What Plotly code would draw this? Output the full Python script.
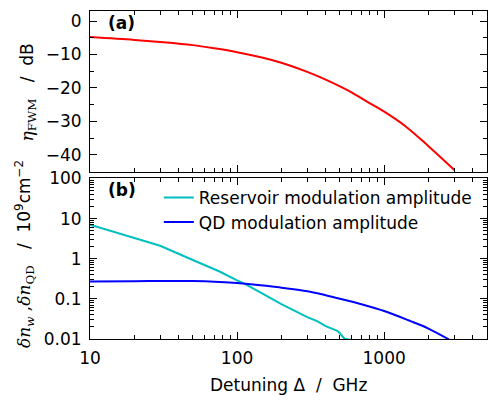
import plotly.graph_objects as go

# ---- data ----
detuning_fwm = [10, 20, 30, 50, 70, 100, 150, 200, 300, 400, 500, 600, 800, 1000, 1400, 2000, 3000]
eta_fwm_db = [-4.8, -5.64, -6.26, -7.2, -8.14, -9.3, -10.97, -12.47, -15.2, -17.5, -19.5, -21.3, -24.6, -27.1, -31.5, -37.4, -44.5]

detuning_res = [10, 20, 30, 50, 76, 100, 112, 150, 200, 300, 350, 400, 450, 480, 500, 530, 560, 600]
reservoir_amp = [7.0, 3.3, 2.1, 0.93, 0.48, 0.29, 0.24, 0.133, 0.074, 0.035, 0.028, 0.021, 0.018, 0.016, 0.014, 0.0106, 0.0098, 0.0095]

detuning_qd = [10, 20, 30, 50, 70, 100, 150, 200, 300, 400, 500, 700, 1000, 1500, 2000, 2800]
qd_amp = [0.27, 0.276, 0.279, 0.277, 0.268, 0.247, 0.216, 0.19, 0.155, 0.123, 0.101, 0.0736, 0.0498, 0.0282, 0.0182, 0.0094]

x_ticks = [10, 100, 1000]
x_ticktext = ["10", "100", "1000"]
y2_ticks = [0.01, 0.1, 1, 10, 100]
y2_ticktext = ["0.01", "0.1", "1", "10", "100"]
y1_ticks = [0, -10, -20, -30, -40]
y1_ticktext = ["0", "\u221210", "\u221220", "\u221230", "\u221240"]

FONT = "DejaVu Sans"
FS = 17
NB = "\u00a0"

minor_x = [d * m for d in (1, 10, 100, 1000) for m in range(2, 10)]
minor_y2 = [d * m for d in (0.01, 0.1, 1, 10) for m in range(2, 10)]

fig = go.Figure()
fig.add_trace(go.Scatter(x=detuning_fwm, y=eta_fwm_db, mode="lines",
                         line=dict(color="#ff0000", width=2, shape="spline", smoothing=1),
                         showlegend=False, xaxis="x", yaxis="y"))
fig.add_trace(go.Scatter(x=detuning_res, y=reservoir_amp, mode="lines",
                         name="Reservoir modulation amplitude",
                         line=dict(color="#00bfbf", width=2),
                         xaxis="x2", yaxis="y2", legend="legend"))
fig.add_trace(go.Scatter(x=detuning_qd, y=qd_amp, mode="lines",
                         name="QD modulation amplitude",
                         line=dict(color="#0000ff", width=2, shape="spline", smoothing=1),
                         xaxis="x2", yaxis="y2", legend="legend2"))

common_axis = dict(showline=True, linecolor="black", linewidth=1, mirror="allticks",
                   ticks="inside", ticklen=7, tickwidth=1, tickcolor="black",
                   showgrid=False, zeroline=False,
                   tickfont=dict(family=FONT, size=FS, color="black"))

# plot area spans pixels x 90..488, y 4..339
def py(pix):
    return (339 - pix) / 335.0
def px(pix):
    return (pix - 90) / 398.0

xr = [1.0, 3.699]
fig.update_layout(
    width=489, height=401,
    margin=dict(l=90, r=1, t=4, b=62, pad=0),
    paper_bgcolor="white", plot_bgcolor="white",
    font=dict(family=FONT, size=FS, color="black"),
    xaxis=dict(type="log", range=xr, domain=[0, 1], anchor="y", matches="x2",
               tickvals=x_ticks, showticklabels=False,
               minor=dict(tickvals=minor_x, ticks="inside", ticklen=4, tickcolor="black"),
               **common_axis),
    yaxis=dict(range=[-45, 3], domain=[0.5104, 1], anchor="x",
               tickvals=y1_ticks, ticktext=y1_ticktext, ticklabelstandoff=4,
               minor=dict(dtick=5, tick0=0, ticks="inside", ticklen=4, tickcolor="black"),
               **common_axis),
    xaxis2=dict(type="log", range=xr, domain=[0, 1], anchor="y2",
                tickvals=x_ticks, ticktext=x_ticktext, ticklabelstandoff=4,
                minor=dict(tickvals=minor_x, ticks="inside", ticklen=4, tickcolor="black"),
                **common_axis),
    yaxis2=dict(type="log", range=[-2, 2], domain=[0, 0.4896], anchor="x2",
                tickvals=y2_ticks, ticktext=y2_ticktext, ticklabelstandoff=4,
                minor=dict(tickvals=minor_y2, ticks="inside", ticklen=4, tickcolor="black"),
                **common_axis),
    legend=dict(x=px(159), y=py(195), xanchor="left", yanchor="middle",
                bgcolor="rgba(0,0,0,0)", font=dict(family=FONT, size=FS)),
    legend2=dict(x=px(159), y=py(220), xanchor="left", yanchor="middle",
                 bgcolor="rgba(0,0,0,0)", font=dict(family=FONT, size=FS)),
)

annots = [
    dict(text="<b>(a)</b>", x=px(106), y=py(16), xanchor="left", yanchor="middle"),
    dict(text="<b>(b)</b>", x=px(106), y=py(187), xanchor="left", yanchor="middle"),
    dict(text="Detuning" + NB + "\u0394" + NB * 2 + "/" + NB * 2 + "GHz",
         x=px(289), y=py(386), xanchor="center", yanchor="middle"),
    dict(text="<span style='font-family:DejaVu Serif'><i>\u03b7</i><sub>FWM</sub></span>" + NB * 3 + "/" + NB * 2 + "dB",
         x=px(28), y=py(87), xanchor="center", yanchor="middle", textangle=-90),
    dict(text="<span style='font-family:DejaVu Serif'><i>\u03b4n<sub>w</sub></i>" + NB + ",<i>\u03b4n</i><sub>QD</sub></span>"
              + NB * 3 + "/" + NB * 2 + "10<sup>9</sup>cm<sup>\u22122</sup>",
         x=px(25), y=py(252), xanchor="center", yanchor="middle", textangle=-90),
]
for a in annots:
    fig.add_annotation(xref="paper", yref="paper", showarrow=False, font=dict(size=FS), **a)

fig.write_html("out.html", config={"displayModeBar": False},
               post_script="document.body.style.margin='0';")
